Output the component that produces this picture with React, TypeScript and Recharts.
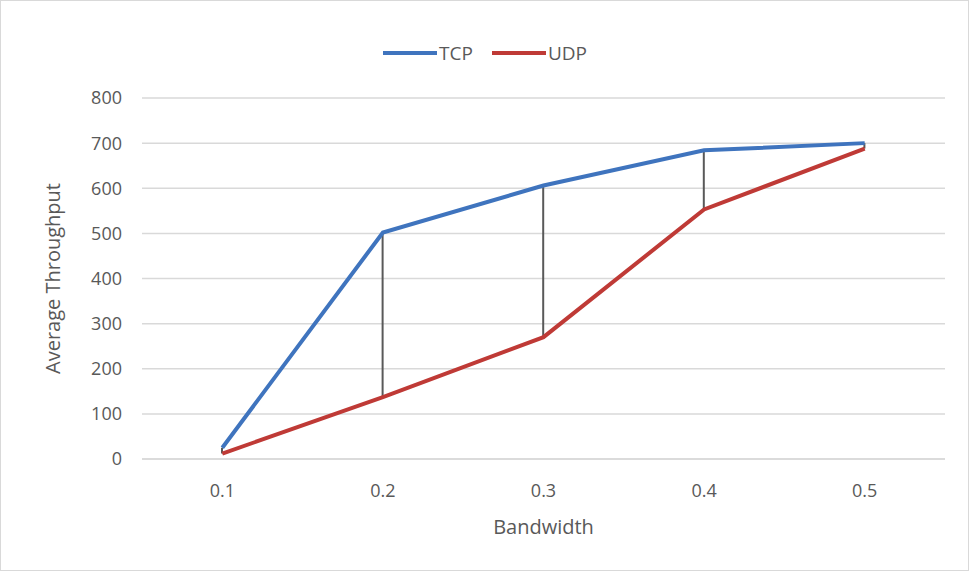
import React from 'react';
import {
  ComposedChart,
  Line,
  Bar,
  XAxis,
  YAxis,
  CartesianGrid,
  Label,
} from 'recharts';

const bandwidths = ['0.1', '0.2', '0.3', '0.4', '0.5'];
const tcpValues = [25, 502, 606, 684, 700];
const udpValues = [12, 137, 270, 553, 688];
const yTicks = [0, 100, 200, 300, 400, 500, 600, 700, 800];

const data = bandwidths.map((b, i) => ({
  bandwidth: b,
  TCP: tcpValues[i],
  UDP: udpValues[i],
  range: [udpValues[i], tcpValues[i]],
}));

const FONT = '"Open Sans", "Liberation Sans", sans-serif';
const TEXT = '#595959';

const series = [
  { name: 'TCP', color: '#3F74BE' },
  { name: 'UDP', color: '#BF3A36' },
];

export default function App() {
  return (
    <div
      style={{
        position: 'absolute',
        left: 0,
        top: 0,
        width: 969,
        height: 571,
        background: '#fff',
        boxSizing: 'border-box',
        border: '1px solid #d9d9d9',
      }}
    >
      {/* legend sits above the plot, outside the chart's layout */}
      <div
        style={{
          position: 'absolute',
          top: 39,
          left: 0,
          width: 967,
          display: 'flex',
          justifyContent: 'center',
          gap: 18,
          fontFamily: FONT,
          fontSize: 19,
          color: TEXT,
        }}
      >
        {series.map((s) => (
          <div key={s.name} style={{ display: 'flex', alignItems: 'center' }}>
            <svg width={56} height={10}>
              <line x1={1} y1={5} x2={55} y2={5} stroke={s.color} strokeWidth={4} />
            </svg>
            <span style={{ marginLeft: 1 }}>{s.name}</span>
          </div>
        ))}
      </div>
      <ComposedChart
        width={967}
        height={569}
        data={data}
        margin={{ top: 97, right: 23, left: 81, bottom: 70 }}
      >
        <CartesianGrid vertical={false} stroke="#d9d9d9" strokeWidth={1.5} />
        <XAxis
          dataKey="bandwidth"
          axisLine={{ stroke: '#d9d9d9', strokeWidth: 1.5 }}
          tickLine={false}
          tick={{ fill: TEXT, fontSize: 18, fontFamily: FONT }}
          tickMargin={19}
          height={41}
        >
          <Label value="Bandwidth" position="bottom" offset={20} style={{ fill: TEXT, fontSize: 20, fontFamily: FONT }} />
        </XAxis>
        <YAxis
          domain={[0, 800]}
          ticks={yTicks}
          axisLine={false}
          tickLine={false}
          tick={{ fill: TEXT, fontSize: 18, fontFamily: FONT }}
          tickMargin={14}
          width={60}
        >
          <Label
            value="Average Throughput"
            angle={-90}
            position="left"
            offset={29}
            style={{ fill: TEXT, fontSize: 20, fontFamily: FONT, textAnchor: 'middle' }}
          />
        </YAxis>
        <Bar dataKey="range" barSize={2} fill="#595959" legendType="none" isAnimationActive={false} />
        <Line
          type="linear"
          dataKey="TCP"
          stroke="#3F74BE"
          strokeWidth={4}
          dot={false}
          activeDot={false}
          isAnimationActive={false}
        />
        <Line
          type="linear"
          dataKey="UDP"
          stroke="#BF3A36"
          strokeWidth={4}
          dot={false}
          activeDot={false}
          isAnimationActive={false}
        />
      </ComposedChart>
    </div>
  );
}
